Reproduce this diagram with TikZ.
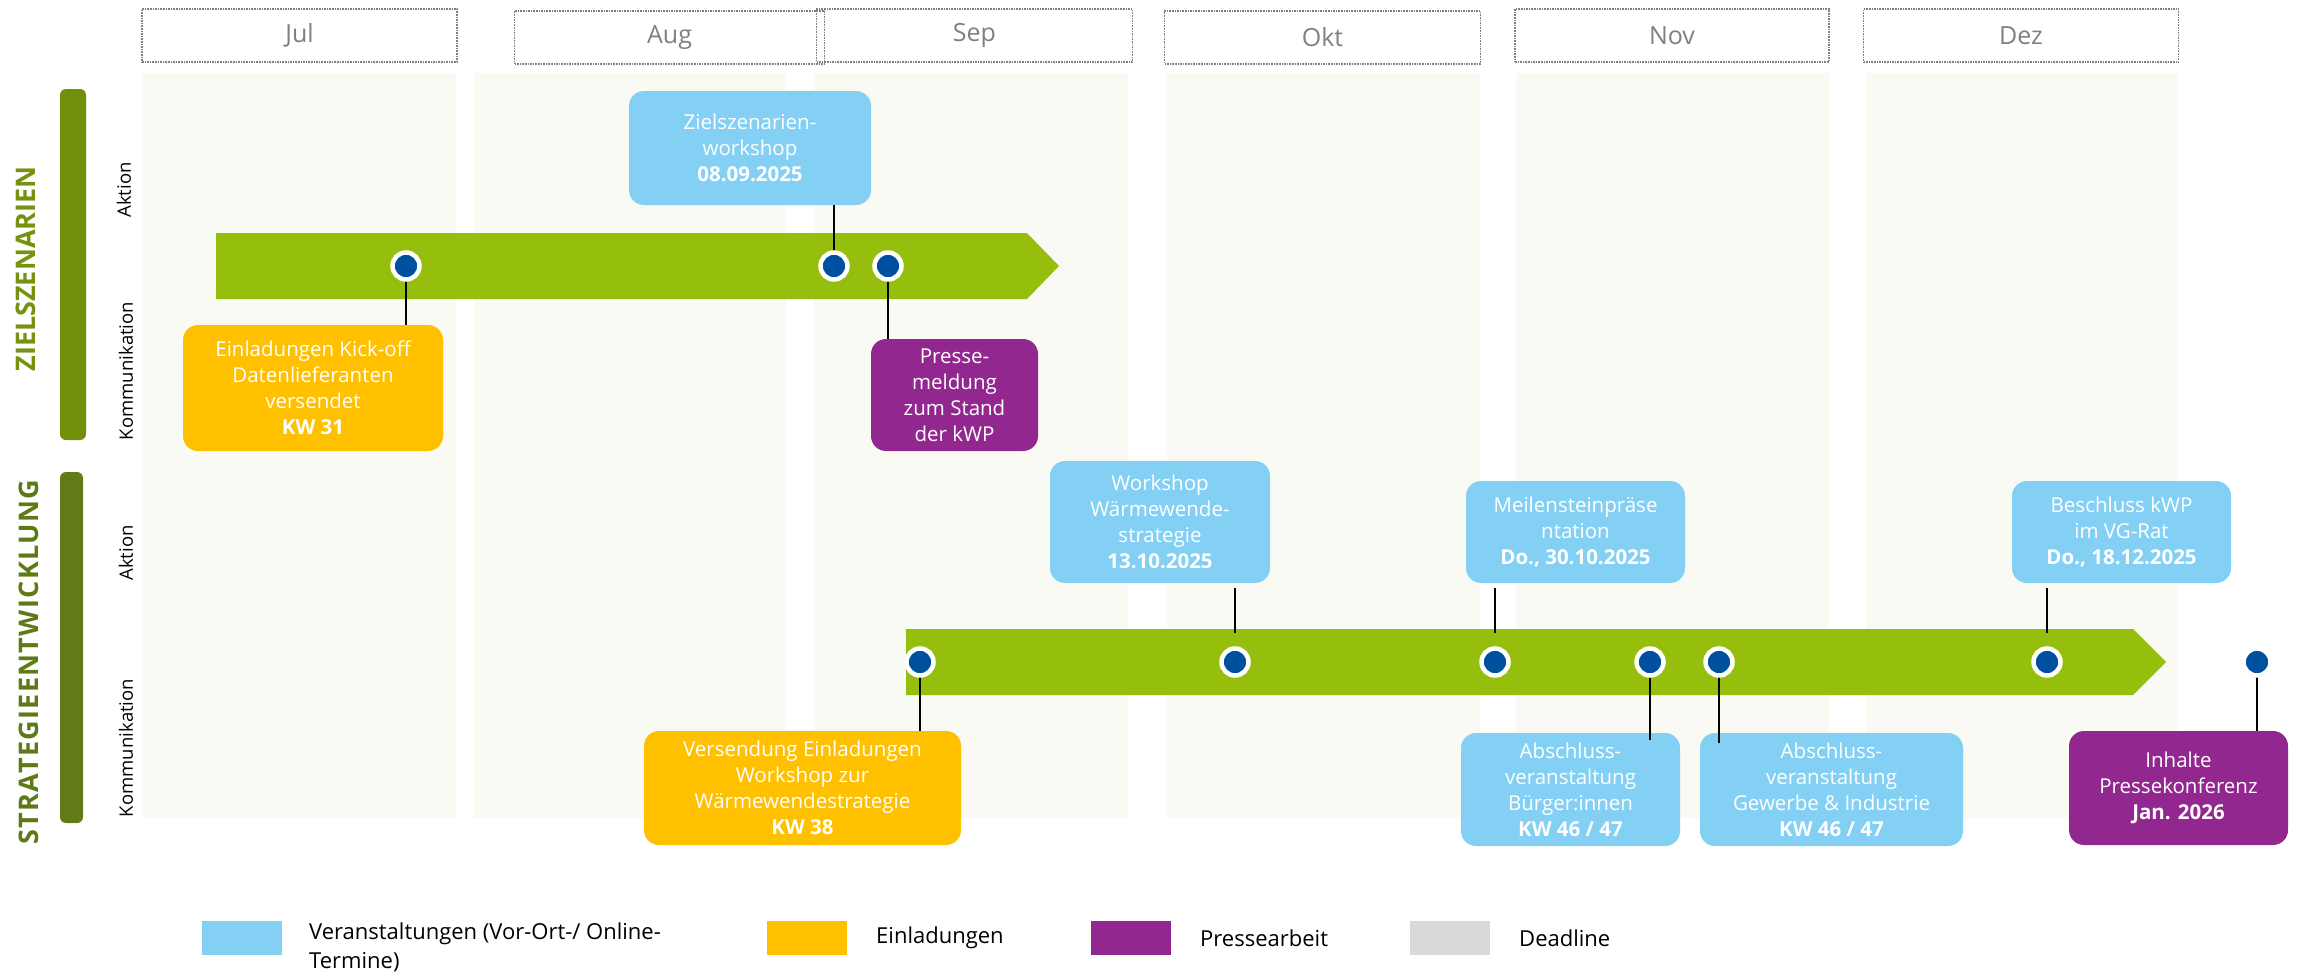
\documentclass[tikz,border=0pt]{standalone}
\usepackage{fontspec}
\setmainfont{Open Sans}
\definecolor{colbg}{HTML}{F9FAF3}
\definecolor{hgray}{HTML}{808080}
\definecolor{lblue}{HTML}{84D0F4}
\definecolor{yell}{HTML}{FFC000}
\definecolor{purp}{HTML}{92278F}
\definecolor{arrgreen}{HTML}{96BF0D}
\definecolor{dotblue}{HTML}{0050A0}
\definecolor{barA}{HTML}{718F0A}
\definecolor{barB}{HTML}{627B16}
\definecolor{titA}{HTML}{76920E}
\definecolor{titB}{HTML}{5E7A17}
\definecolor{lgray}{HTML}{D9D9D9}
\begin{document}
\begin{tikzpicture}[x=1pt,y=-1pt,
  col/.style={fill=colbg},
  mon/.style={draw=hgray, densely dotted, line width=1.6pt, minimum height=53pt, text=hgray, font=\fontsize{25}{30}\selectfont, inner sep=0pt},
  ev/.style={rounded corners=15pt, text=white, align=center, font=\fontsize{20.5}{26}\selectfont, inner sep=0pt},
  dot/.style={circle, fill=dotblue, draw=white, line width=4.5pt, minimum size=27pt, inner sep=0pt},
  conn/.style={draw=black, line width=1.3pt},
  lsq/.style={minimum width=80pt, minimum height=34pt, inner sep=0pt},
  ltxt/.style={font=\fontsize{22}{29}\selectfont, align=left, inner sep=0pt},
  side/.style={rotate=90, font=\fontsize{18.5}{22}\selectfont, inner sep=0pt},
  sect/.style={rotate=90, font=\bfseries\fontsize{27}{30}\selectfont, inner sep=0pt}
]
\useasboundingbox[fill=white] (0,0) rectangle (2302,977);

% month columns
\fill[col] (142,73) rectangle (456,818);
\fill[col] (474,73) rectangle (786,818);
\fill[col] (814,73) rectangle (1128,818);
\fill[col] (1167,73) rectangle (1480,818);
\fill[col] (1516,73) rectangle (1829,818);
\fill[col] (1866,73) rectangle (2178,818);

% month headers
\node[mon, minimum width=315pt] (jul) at (299.5,35.5) {Jul};
\node[mon, minimum width=310pt] (aug) at (669.5,37.5) {Aug};
\node[mon, minimum width=316pt] (sep) at (974.5,35.5) {Sep};
\node[mon, minimum width=316pt] (okt) at (1322.5,37.5) {Okt};
\node[mon, minimum width=314pt] (nov) at (1672,35.5) {Nov};
\node[mon, minimum width=315pt] (dez) at (2021,35.5) {Dez};

% section bars and titles
\fill[barA, rounded corners=6pt] (60,89) rectangle (86,440);
\fill[barB, rounded corners=6pt] (60,472) rectangle (83,823);
\node[sect, text=titA] (tA) at (26,269) {ZIELSZENARIEN};
\node[sect, text=titB] (tB) at (29,662) {\addfontfeature{LetterSpace=5}STRATEGIEENTWICKLUNG};
\node[side] (akA) at (124,190) {Aktion};
\node[side] (koA) at (126,371) {Kommunikation};
\node[side] (akB) at (126,553) {Aktion};
\node[side] (koB) at (126,748) {Kommunikation};

% timeline arrows
\fill[arrgreen] (216,233) -- (1027,233) -- (1059,266) -- (1027,299) -- (216,299) -- cycle;
\fill[arrgreen] (906,629) -- (2133,629) -- (2166,662) -- (2133,695) -- (906,695) -- cycle;

% event boxes
\node[ev, fill=lblue, minimum width=242pt, minimum height=114pt] (zws) at (750,148) {Zielszenarien-\\workshop\\\textbf{08.09.2025}};
\node[ev, fill=yell, minimum width=260pt, minimum height=126pt] (kick) at (313,388) {Einladungen Kick-off\\Datenlieferanten\\versendet\\\textbf{KW 31}};
\node[ev, fill=purp, minimum width=167pt, minimum height=112pt] (presse) at (954.5,395) {Presse-\\meldung\\zum Stand\\der kWP};
\node[ev, fill=lblue, minimum width=220pt, minimum height=122pt] (wsw) at (1160,522) {Workshop\\Wärmewende-\\strategie\\\textbf{13.10.2025}};
\node[ev, fill=lblue, minimum width=219pt, minimum height=102pt] (meil) at (1575.5,532) {Meilensteinpräse\\ntation\\\textbf{Do., 30.10.2025}};
\node[ev, fill=lblue, minimum width=219pt, minimum height=102pt] (besch) at (2121.5,532) {Beschluss kWP\\im VG-Rat\\\textbf{Do., 18.12.2025}};
\node[ev, fill=yell, minimum width=317pt, minimum height=114pt] (vers) at (802.5,788) {Versendung Einladungen\\Workshop zur\\Wärmewendestrategie\\\textbf{KW 38}};
\node[ev, fill=lblue, minimum width=219pt, minimum height=113pt] (abb) at (1570.5,789.5) {Abschluss-\\veranstaltung\\Bürger:innen\\\textbf{KW 46 / 47}};
\node[ev, fill=lblue, minimum width=263pt, minimum height=113pt] (abg) at (1831.5,789.5) {Abschluss-\\veranstaltung\\Gewerbe \& Industrie\\\textbf{KW 46 / 47}};
\node[ev, fill=purp, minimum width=219pt, minimum height=114pt] (inh) at (2178.5,788) {Inhalte\\Pressekonferenz\\\textbf{Jan. 2026}};

% dot coordinates
\coordinate (p1) at (406,266);
\coordinate (p2) at (834,266);
\coordinate (p3) at (888,266);
\coordinate (pa) at (920,662);
\coordinate (pb) at (1235,662);
\coordinate (pc) at (1495,662);
\coordinate (pd) at (1650,662);
\coordinate (pe) at (1719,662);
\coordinate (pf) at (2047,662);
\coordinate (pg) at (2257,662);

% connectors
\draw[conn] (p1) -- (kick.north -| p1);
\draw[conn] (zws.south -| p2) -- (p2);
\draw[conn] (p3) -- (presse.north -| p3);
\draw[conn, shorten <=5pt, shorten >=29pt] (wsw.south -| pb) -- (pb);
\draw[conn, shorten <=5pt, shorten >=29pt] (meil.south -| pc) -- (pc);
\draw[conn, shorten <=5pt, shorten >=29pt] (besch.south -| pf) -- (pf);
\draw[conn] (pa) -- (vers.north -| pa);
\draw[conn, shorten >=-7pt] (pd) -- (abb.north -| pd);
\draw[conn, shorten >=-10pt] (pe) -- (abg.north -| pe);
\draw[conn] (pg) -- (inh.north -| pg);

% dots
\foreach \p in {p1,p2,p3,pa,pb,pc,pd,pe,pf,pg} \node[dot] (d\p) at (\p) {};

% legend
\node[lsq, fill=lblue] (lq1) at (242,938) {};
\node[ltxt, anchor=north west] (lt1) at (309,923) {Veranstaltungen (Vor-Ort-/ Online-\\Termine)};
\node[lsq, fill=yell] (lq2) at (807,938) {};
\node[ltxt, anchor=west] (lt2) at (876,938) {Einladungen};
\node[lsq, fill=purp] (lq3) at (1131,938) {};
\node[ltxt, anchor=west] (lt3) at (1200,938) {Pressearbeit};
\node[lsq, fill=lgray] (lq4) at (1450,938) {};
\node[ltxt, anchor=west] (lt4) at (1519,938) {Deadline};
\end{tikzpicture}
\end{document}
